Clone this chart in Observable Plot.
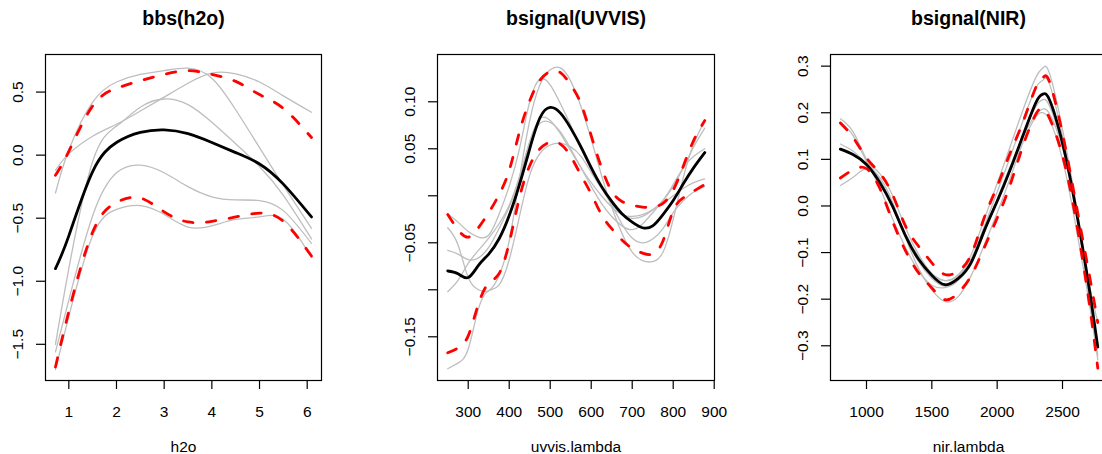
<!DOCTYPE html>
<html><head><meta charset="utf-8">
<script src="https://cdn.jsdelivr.net/npm/d3@7"></script>
<script src="https://cdn.jsdelivr.net/npm/@observablehq/plot@0.6"></script>
<style>
html,body{margin:0;padding:0;background:#fff;overflow:hidden;width:1102px;height:454px}
#wrap{position:relative;width:1102px;height:454px;overflow:hidden}
#wrap>div{position:absolute;top:0;height:454px}
#wrap svg{max-width:none !important}
</style></head><body>
<div id="wrap"><div id="p1" style="left:0;width:367px"></div><div id="p2" style="left:367px;width:367px"></div><div id="p3" style="left:734px;width:376px"></div></div>
<script>
// ---------- Panel 1: bbs(h2o) ----------
const h2oX = [0.72, 1.0, 1.5, 2.0, 2.5, 3.0, 3.5, 4.0, 4.5, 5.0, 5.5, 6.09];
const h2oMean = [-0.90, -0.64, -0.13, 0.10, 0.18, 0.20, 0.17, 0.10, 0.02, -0.07, -0.23, -0.49];
const h2oUpper = [-0.16, 0.03, 0.39, 0.53, 0.59, 0.64, 0.67, 0.64, 0.585, 0.48, 0.37, 0.14];
const h2oLower = [-1.68, -1.24, -0.61, -0.375, -0.34, -0.45, -0.53, -0.525, -0.49, -0.46, -0.525, -0.80];
const h2oGray1 = [-0.30, 0.04, 0.42, 0.58, 0.64, 0.67, 0.69, 0.61, 0.36, 0.06, -0.24, -0.58];
const h2oGray2 = [-0.12, 0.01, 0.15, 0.245, 0.35, 0.46, 0.57, 0.65, 0.645, 0.58, 0.47, 0.34];
const h2oGray3 = [-1.50, -0.90, -0.05, 0.23, 0.38, 0.445, 0.40, 0.26, 0.09, -0.09, -0.32, -0.665];
const h2oGray4 = [-1.56, -1.15, -0.48, -0.14, -0.08, -0.14, -0.25, -0.33, -0.355, -0.36, -0.44, -0.70];
const h2oGray5 = [-1.70, -1.28, -0.64, -0.43, -0.40, -0.47, -0.57, -0.56, -0.51, -0.49, -0.51, -0.81];
const h2oXTicks = [1, 2, 3, 4, 5, 6];
const h2oXTickLabels = ["1", "2", "3", "4", "5", "6"];
const h2oYTicks = [-1.5, -1.0, -0.5, 0.0, 0.5];
const h2oYTickLabels = ["\u22121.5", "\u22121.0", "\u22120.5", "0.0", "0.5"];

// ---------- Panel 2: bsignal(UVVIS) ----------
const uvX = [250,275,300,325,350,375,400,425,450,475,500,525,550,575,600,625,650,675,700,725,750,775,800,825,850,877];
const uvMean = [-0.080,-0.083,-0.087,-0.074,-0.062,-0.046,-0.021,0.012,0.050,0.083,0.094,0.088,0.072,0.052,0.030,0.010,-0.006,-0.019,-0.028,-0.034,-0.032,-0.020,-0.005,0.013,0.030,0.046];
const uvUpper = [-0.020,-0.036,-0.044,-0.034,-0.018,0.001,0.027,0.068,0.101,0.123,0.132,0.131,0.118,0.098,0.064,0.030,0.005,-0.006,-0.010,-0.012,-0.012,-0.008,0.006,0.032,0.059,0.080];
const uvLower = [-0.167,-0.162,-0.149,-0.115,-0.093,-0.083,-0.050,-0.002,0.032,0.050,0.057,0.055,0.042,0.022,0.002,-0.020,-0.035,-0.047,-0.056,-0.061,-0.062,-0.048,-0.016,-0.002,0.005,0.012];
const uvGray1 = [-0.034,-0.052,-0.087,-0.100,-0.101,-0.085,-0.048,0.018,0.080,0.118,0.134,0.136,0.122,0.095,0.060,0.022,-0.012,-0.040,-0.060,-0.069,-0.070,-0.060,-0.025,0.020,0.055,0.080];
const uvGray2 = [-0.019,-0.028,-0.038,-0.044,-0.042,-0.020,0.010,0.050,0.100,0.124,0.118,0.098,0.075,0.050,0.028,0.008,-0.008,-0.020,-0.024,-0.022,-0.015,-0.005,0.010,0.030,0.052,0.072];
const uvGray3 = [-0.058,-0.062,-0.068,-0.066,-0.055,-0.035,-0.012,0.020,0.058,0.082,0.080,0.066,0.048,0.030,0.014,0.000,-0.012,-0.020,-0.022,-0.020,-0.015,-0.008,0.000,0.008,0.014,0.018];
const uvGray4 = [-0.102,-0.090,-0.072,-0.058,-0.045,-0.030,-0.010,0.020,0.055,0.077,0.078,0.068,0.050,0.030,0.010,-0.008,-0.022,-0.032,-0.036,-0.030,-0.018,-0.005,0.012,0.030,0.042,0.050];
const uvGray5 = [-0.184,-0.178,-0.163,-0.120,-0.101,-0.095,-0.068,-0.022,0.022,0.045,0.054,0.056,0.052,0.042,0.025,0.008,-0.010,-0.030,-0.045,-0.050,-0.046,-0.035,-0.018,-0.005,0.004,0.010];
const uvXTicks = [300, 400, 500, 600, 700, 800, 900];
const uvXTickLabels = ["300", "400", "500", "600", "700", "800", "900"];
const uvYTicks = [-0.15, -0.10, -0.05, 0.00, 0.05, 0.10];
const uvYTickLabels = ["\u22120.15", "", "\u22120.05", "", "0.05", "0.10"];

// ---------- Panel 3: bsignal(NIR) ----------
const nirX = [800,900,1000,1100,1200,1300,1400,1500,1600,1700,1800,1900,2000,2100,2200,2300,2350,2400,2500,2600,2700,2770];
const nirMean = [0.122,0.110,0.089,0.051,-0.001,-0.065,-0.115,-0.149,-0.169,-0.156,-0.122,-0.054,0.010,0.078,0.153,0.224,0.240,0.228,0.135,-0.002,-0.169,-0.303];
const nirUpper = [0.178,0.146,0.103,0.071,0.024,-0.044,-0.087,-0.122,-0.147,-0.140,-0.105,-0.026,0.042,0.114,0.182,0.257,0.275,0.267,0.155,0.010,-0.140,-0.250];
const nirLower = [0.060,0.078,0.080,0.039,-0.033,-0.097,-0.144,-0.176,-0.201,-0.187,-0.150,-0.090,-0.026,0.046,0.131,0.199,0.208,0.189,0.108,-0.025,-0.200,-0.348];
const nirGray1 = [0.187,0.158,0.100,0.058,0.003,-0.060,-0.110,-0.145,-0.160,-0.148,-0.105,-0.030,0.048,0.128,0.208,0.278,0.296,0.285,0.165,0.010,-0.170,-0.300];
const nirGray2 = [0.133,0.117,0.090,0.052,-0.002,-0.066,-0.120,-0.155,-0.172,-0.160,-0.125,-0.058,0.010,0.080,0.155,0.215,0.228,0.215,0.128,-0.005,-0.175,-0.300];
const nirGray3 = [0.122,0.108,0.092,0.070,0.022,-0.048,-0.105,-0.145,-0.160,-0.150,-0.115,-0.055,0.015,0.085,0.150,0.198,0.208,0.198,0.125,0.000,-0.160,-0.250];
const nirGray4 = [0.044,0.062,0.080,0.062,0.008,-0.068,-0.135,-0.180,-0.205,-0.195,-0.150,-0.085,-0.015,0.060,0.138,0.193,0.200,0.185,0.100,-0.040,-0.200,-0.330];
const nirGray5 = [0.180,0.150,0.095,0.040,-0.028,-0.090,-0.140,-0.170,-0.175,-0.160,-0.115,-0.045,0.030,0.105,0.185,0.255,0.270,0.262,0.150,0.000,-0.190,-0.320];
const nirXTicks = [1000, 1500, 2000, 2500];
const nirXTickLabels = ["1000", "1500", "2000", "2500"];
const nirYTicks = [-0.3, -0.2, -0.1, 0.0, 0.1, 0.2, 0.3];
const nirYTickLabels = ["\u22120.3", "\u22120.2", "\u22120.1", "0.0", "0.1", "0.2", "0.3"];

const FONT = "'Liberation Sans', Arial, Helvetica, sans-serif";

function panel(o) {
  const rows = [];
  o.grays.forEach((g, k) => g.forEach((v, i) => rows.push({x: o.xs[i], y: v, s: "g" + k})));
  const pts = arr => arr.map((v, i) => ({x: o.xs[i], y: v}));
  const xMap = new Map(o.xTicks.map((t, i) => [t, o.xTickLabels[i]]));
  const yMap = new Map(o.yTicks.map((t, i) => [t, o.yTickLabels[i]]));
  const dashed = {x: "x", y: "y", stroke: "#ff0000", strokeWidth: 2.8, strokeDasharray: "9.5,13.5", strokeLinecap: "round", curve: "natural", clip: true};
  return Plot.plot({
    width: o.width, height: 454,
    marginTop: 54, marginBottom: 74, marginLeft: o.marginLeft, marginRight: o.marginRight,
    style: {fontFamily: FONT, color: "black", background: "white", overflow: "visible", maxWidth: "none"},
    x: {domain: o.xDomain, label: null},
    y: {domain: o.yDomain, label: null},
    marks: [
      Plot.line(rows, {x: "x", y: "y", z: "s", stroke: "#bebebe", strokeWidth: 1.3, curve: "natural", clip: true}),
      Plot.line(pts(o.mean), {x: "x", y: "y", stroke: "black", strokeWidth: 2.8, curve: "natural", clip: true}),
      Plot.line(pts(o.upper), dashed),
      Plot.line(pts(o.lower), dashed),
      Plot.frame({stroke: "black", strokeWidth: 1.2}),
      Plot.axisX(o.xTicks, {label: null, tickSize: 9, tickPadding: 16, fontSize: 15.5, strokeWidth: 1.2, tickFormat: d => xMap.get(d)}),
      Plot.axisY(o.yTicks, {label: null, tickSize: 9, tickPadding: 18, fontSize: 15.5, strokeWidth: 1.2, tickRotate: -90, textAnchor: "middle", lineAnchor: "middle", tickFormat: d => yMap.get(d)}),
      Plot.text([o.title], {text: d => d, frameAnchor: "top", lineAnchor: "middle", dy: -36, fontSize: 19.5, fontWeight: "bold", fill: "black"}),
      Plot.text([o.xlabel], {text: d => d, frameAnchor: "bottom", lineAnchor: "middle", dy: 67, fontSize: 15.5, fill: "black"})
    ]
  });
}

document.getElementById("p1").appendChild(panel({
  title: "bbs(h2o)", xlabel: "h2o", xs: h2oX, mean: h2oMean, upper: h2oUpper, lower: h2oLower,
  grays: [h2oGray1, h2oGray2, h2oGray3, h2oGray4, h2oGray5],
  xDomain: [0.511, 6.30], yDomain: [-1.787, 0.798],
  xTicks: h2oXTicks, xTickLabels: h2oXTickLabels, yTicks: h2oYTicks, yTickLabels: h2oYTickLabels,
  width: 367, marginLeft: 45, marginRight: 46
}));
document.getElementById("p2").appendChild(panel({
  title: "bsignal(UVVIS)", xlabel: "uvvis.lambda", xs: uvX, mean: uvMean, upper: uvUpper, lower: uvLower,
  grays: [uvGray1, uvGray2, uvGray3, uvGray4, uvGray5],
  xDomain: [225.1, 900.7], yDomain: [-0.1965, 0.1503],
  xTicks: uvXTicks, xTickLabels: uvXTickLabels, yTicks: uvYTicks, yTickLabels: uvYTickLabels,
  width: 367, marginLeft: 70, marginRight: 20
}));
document.getElementById("p3").appendChild(panel({
  title: "bsignal(NIR)", xlabel: "nir.lambda", xs: nirX, mean: nirMean, upper: nirUpper, lower: nirLower,
  grays: [nirGray1, nirGray2, nirGray3, nirGray4, nirGray5],
  xDomain: [724.5, 2836.7], yDomain: [-0.3745, 0.325],
  xTicks: nirXTicks, xTickLabels: nirXTickLabels, yTicks: nirYTicks, yTickLabels: nirYTickLabels,
  width: 376, marginLeft: 96, marginRight: 4
}));
</script>
</body></html>
